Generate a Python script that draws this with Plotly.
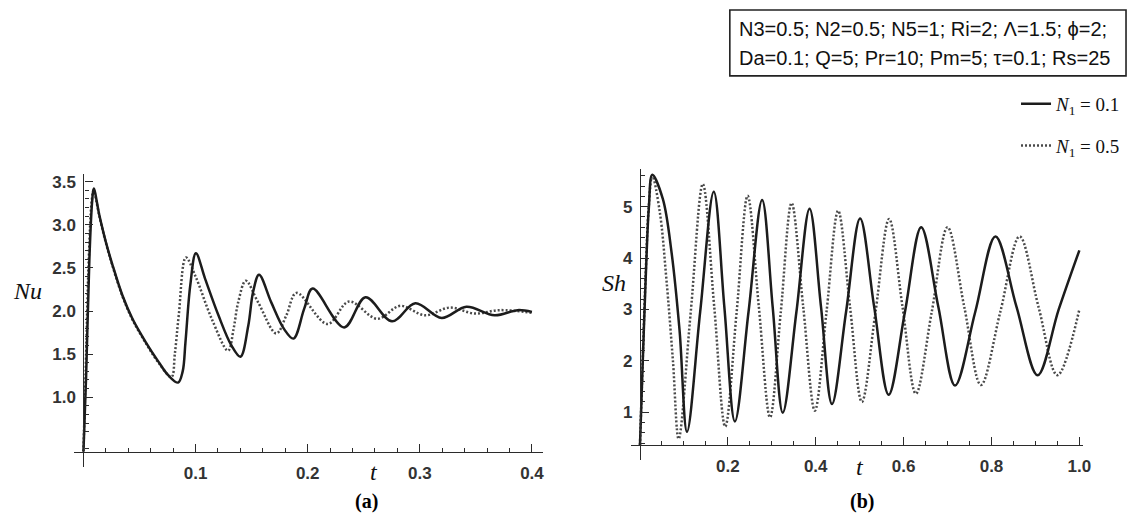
import plotly.graph_objects as go

# ---------------- data ----------------
# (a) Nusselt number vs time
t_nu_a = [0.0, 0.0024, 0.0053, 0.0077, 0.0092, 0.0142, 0.020, 0.026, 0.0348, 0.0437,
          0.0555, 0.067, 0.076, 0.0844, 0.0885, 0.091, 0.0953, 0.1003, 0.1086, 0.1204,
          0.132, 0.140, 0.147, 0.1513, 0.1566, 0.1675, 0.179, 0.1873, 0.197, 0.2044,
          0.2325, 0.2516, 0.2752, 0.296, 0.3195, 0.3416, 0.3667, 0.3873, 0.400]
nu_a = [0.37, 1.25, 2.60, 3.26, 3.42, 3.11, 2.80, 2.53, 2.18, 1.91,
        1.64, 1.41, 1.25, 1.17, 1.30, 1.64, 2.30, 2.67, 2.37, 1.95,
        1.60, 1.47, 1.83, 2.22, 2.42, 2.10, 1.79, 1.68, 2.03, 2.26,
        1.81, 2.16, 1.88, 2.09, 1.92, 2.05, 1.95, 2.01, 1.99]

t_nu_b = [0.0, 0.0020, 0.0048, 0.0074, 0.0090, 0.0142, 0.020, 0.026, 0.0348, 0.0437,
          0.0555, 0.067, 0.0785, 0.0815, 0.085, 0.0914, 0.0997, 0.1144, 0.129, 0.134,
          0.138, 0.1448, 0.1558, 0.172, 0.181, 0.190, 0.2177, 0.2369, 0.262, 0.2826,
          0.3047, 0.3268, 0.349, 0.371, 0.400]
nu_b = [0.37, 1.30, 2.62, 3.28, 3.40, 3.10, 2.79, 2.52, 2.17, 1.90,
        1.63, 1.40, 1.235, 1.50, 1.95, 2.62, 2.41, 1.91, 1.54, 1.80,
        2.10, 2.35, 2.10, 1.74, 1.95, 2.21, 1.85, 2.11, 1.91, 2.06,
        1.95, 2.04, 1.97, 2.01, 1.98]

# (b) Sherwood number vs time
t_sh_a = [0.0, 0.006, 0.013, 0.020, 0.028, 0.052, 0.072, 0.090, 0.107, 0.137,
          0.168, 0.192, 0.216, 0.247, 0.278, 0.302, 0.325, 0.356, 0.386, 0.412,
          0.437, 0.469, 0.501, 0.533, 0.566, 0.603, 0.640, 0.679, 0.717, 0.763,
          0.809, 0.857, 0.905, 0.953, 1.0]
sh_a = [0.36, 1.90, 3.60, 4.95, 5.62, 5.15, 4.10, 2.60, 0.62, 2.95,
        5.29, 3.05, 0.82, 2.95, 5.13, 3.05, 0.99, 2.95, 4.96, 3.05,
        1.16, 2.95, 4.77, 3.05, 1.34, 2.95, 4.60, 3.05, 1.52, 2.95,
        4.42, 3.05, 1.72, 3.0, 4.15]

t_sh_b = [0.0, 0.006, 0.013, 0.020, 0.028, 0.045, 0.060, 0.075, 0.088, 0.1155,
          0.143, 0.169, 0.194, 0.220, 0.245, 0.2705, 0.296, 0.3205, 0.345, 0.3715,
          0.398, 0.4245, 0.451, 0.478, 0.505, 0.536, 0.567, 0.5975, 0.628, 0.664,
          0.700, 0.738, 0.776, 0.820, 0.864, 0.907, 0.950, 1.0]
sh_b = [0.36, 1.95, 3.70, 5.00, 5.60, 4.90, 3.60, 2.00, 0.48, 2.95,
        5.44, 3.05, 0.72, 2.95, 5.21, 3.05, 0.90, 2.95, 5.07, 3.05,
        1.03, 2.95, 4.92, 3.05, 1.20, 2.95, 4.76, 3.05, 1.36, 2.95,
        4.60, 3.05, 1.53, 2.95, 4.42, 3.05, 1.72, 3.0]

series_names = ["<i>N</i><sub>1</sub> = 0.1", "<i>N</i><sub>1</sub> = 0.5"]

nu_tickvals = [1.0, 1.5, 2.0, 2.5, 3.0, 3.5]
nu_ticktext = ["1.0", "1.5", "2.0", "2.5", "3.0", "3.5"]
ta_tickvals = [0.1, 0.2, 0.3, 0.4]
ta_ticktext = ["0.1", "0.2", "0.3", "0.4"]
sh_tickvals = [1, 2, 3, 4, 5]
sh_ticktext = ["1", "2", "3", "4", "5"]
tb_tickvals = [0.2, 0.4, 0.6, 0.8, 1.0]
tb_ticktext = ["0.2", "0.4", "0.6", "0.8", "1.0"]

params_line1 = "N3=0.5; N2=0.5; N5=1; Ri=2; Λ=1.5; ϕ=2;"
params_line2 = "Da=0.1; Q=5; Pr=10; Pm=5; τ=0.1; Rs=25"

# ---------------- figure ----------------
W, H = 1137, 521
SOLID = "#1c1c1c"
DOTTED = "#4a4a4a"
AXIS = "#2b2b2b"
TICKFONT = dict(family="Liberation Sans, Arial", size=17, color="#333333", weight="bold")

fig = go.Figure()


def add_pair(t1, y1, t2, y2, xa, ya, show):
    fig.add_trace(go.Scatter(
        x=t2, y=y2, mode="lines", name=series_names[1], xaxis=xa, yaxis=ya,
        line=dict(color=DOTTED, width=2.5, dash="2px,2px", shape="spline", smoothing=1.0),
        showlegend=show, legendgroup="g2", legendrank=2, hoverinfo="skip"))
    fig.add_trace(go.Scatter(
        x=t1, y=y1, mode="lines", name=series_names[0], xaxis=xa, yaxis=ya,
        line=dict(color=SOLID, width=2.5, shape="spline", smoothing=1.0),
        showlegend=show, legendgroup="g1", legendrank=1, hoverinfo="skip"))


add_pair(t_nu_a, nu_a, t_nu_b, nu_b, "x", "y", True)
add_pair(t_sh_a, sh_a, t_sh_b, sh_b, "x2", "y2", False)


def px_x(p):
    return p / W


def px_y(p):
    return 1 - p / H


def frange(a, b, step):
    out, k = [], 0
    while a + k * step <= b + 1e-9:
        out.append(round(a + k * step, 6))
        k += 1
    return out


def axis_cfg(rng, dom, pos, tv, tt, minor_vals, standoff):
    return dict(
        range=rng, domain=dom, anchor="free", position=pos,
        showline=True, linecolor=AXIS, linewidth=1.3,
        showgrid=False, zeroline=False,
        tickmode="array", tickvals=tv, ticktext=tt,
        ticks="inside", ticklen=8, tickwidth=1.2, tickcolor=AXIS,
        ticklabelstandoff=standoff,
        minor=dict(tickmode="array", tickvals=minor_vals, ticks="inside",
                   ticklen=4, tickwidth=1, tickcolor=AXIS, showgrid=False),
        tickfont=TICKFONT, fixedrange=True)


fig.update_layout(
    xaxis=axis_cfg([-0.008, 0.41], [px_x(75), px_x(547)], px_y(452),
                   ta_tickvals, ta_ticktext,
                   [v for v in frange(0.02, 0.40, 0.02) if round(v * 10, 6) % 1 != 0], 5),
    yaxis=axis_cfg([0.1898, 3.5926], [px_y(467), px_y(173)], px_x(84),
                   nu_tickvals, nu_ticktext,
                   [v for v in frange(0.4, 3.5, 0.1) if round(v * 2, 6) % 1 != 0], 4),
    xaxis2=axis_cfg([-0.0215, 1.009], [px_x(635), px_x(1091)], px_y(445),
                    tb_tickvals, tb_ticktext,
                    [v for v in frange(0.05, 1.0, 0.05) if round(v * 5, 6) % 1 != 0], 5),
    yaxis2=axis_cfg([0.068, 5.738], [px_y(460), px_y(168)], px_x(644.5),
                    sh_tickvals, sh_ticktext,
                    [v for v in frange(0.4, 5.6, 0.2) if round(v, 6) % 1 != 0], 4),
)

annotations = [
    dict(text="<i>Nu</i>", x=px_x(28), y=px_y(291)),
    dict(text="<i>t</i>", x=px_x(377), y=px_y(472)),
    dict(text="<i>Sh</i>", x=px_x(618), y=px_y(283)),
    dict(text="<i>t</i>", x=px_x(866), y=px_y(467)),
]
for a in annotations:
    a.update(xref="paper", yref="paper", showarrow=False, xanchor="center", yanchor="middle",
             font=dict(family="Liberation Serif, Times New Roman", size=24, color="#111111"))

for txt, cx in (("<b>(a)</b>", 369), ("<b>(b)</b>", 868)):
    annotations.append(dict(text=txt, x=px_x(cx), y=px_y(501), xref="paper", yref="paper",
                            showarrow=False, xanchor="center", yanchor="middle",
                            font=dict(family="Liberation Serif, Times New Roman", size=20,
                                      color="#000000")))

for txt, cy in ((params_line1, 28), (params_line2, 57)):
    annotations.append(dict(text=txt, x=px_x(742), y=px_y(cy), xref="paper", yref="paper",
                            showarrow=False, xanchor="left", yanchor="middle",
                            font=dict(family="Liberation Sans, Arial", size=20, color="#111111")))

fig.update_layout(
    annotations=annotations,
    shapes=[dict(type="rect", xref="paper", yref="paper",
                 x0=px_x(735), x1=px_x(1134), y0=px_y(75), y1=px_y(9),
                 line=dict(color="#222222", width=1.6), fillcolor="rgba(0,0,0,0)")],
    width=W, height=H, autosize=False,
    margin=dict(l=0, r=0, t=0, b=0),
    paper_bgcolor="white", plot_bgcolor="white",
    showlegend=True,
    legend=dict(x=px_x(1134), y=px_y(84), xanchor="right", yanchor="top",
                bgcolor="rgba(0,0,0,0)", borderwidth=0, itemwidth=30,
                tracegroupgap=14,
                font=dict(family="Liberation Serif, Times New Roman", size=19, color="#111111")),
)

fig.write_html("out.html")
